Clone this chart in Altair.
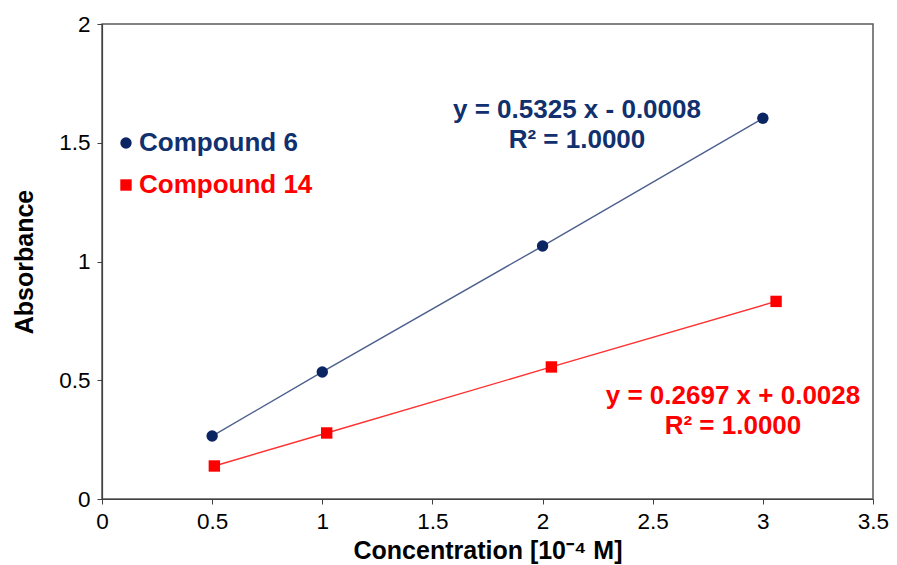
import altair as alt
import pandas as pd

series_names = ["Compound 6", "Compound 14"]
conc_6 = [0.5, 1.0, 2.0, 3.0]
abs_6 = [0.265, 0.535, 1.065, 1.603]
conc_14 = [0.51, 1.02, 2.04, 3.06]
abs_14 = [0.139, 0.278, 0.556, 0.832]
x_ticks = [0, 0.5, 1, 1.5, 2, 2.5, 3, 3.5]
y_ticks = [0, 0.5, 1, 1.5, 2]
eq_6 = ["y = 0.5325 x - 0.0008", "R² = 1.0000"]
eq_14 = ["y = 0.2697 x + 0.0028", "R² = 1.0000"]

series_col = [series_names[0]] * len(conc_6) + [series_names[1]] * len(conc_14)
df = pd.DataFrame({
    "x": conc_6 + conc_14,
    "y": abs_6 + abs_14,
    "series": series_col,
})

NAVY = "#0B2462"
NAVY_TXT = "#10306E"
RED = "#FF0000"
FONT = "Liberation Sans"
marker_colors = [NAVY, RED]
text_colors = [NAVY_TXT, RED]
line_colors = ["#4C5F8E", "#FF3030"]
shapes = ["circle", "square"]

xs = alt.X("x:Q", scale=alt.Scale(domain=[0, 3.5], nice=False),
           axis=alt.Axis(values=x_ticks, format="~g", title="Concentration [10⁻⁴ M]",
                         titleY=51, titleBaseline="middle", labelPadding=6,
                         labelFlush=False, labelOverlap=False))
ys = alt.Y("y:Q", scale=alt.Scale(domain=[0, 2], nice=False),
           axis=alt.Axis(values=y_ticks, format="~g", title="Absorbance",
                         titleX=-78, titleY=237.5, titleAlign="center",
                         titleBaseline="middle", labelPadding=7,
                         labelFlush=False, labelOverlap=False))

lines = alt.Chart(df).mark_line(strokeWidth=1.4).encode(
    x=xs, y=ys,
    stroke=alt.Stroke("series:N", scale=alt.Scale(domain=series_names, range=line_colors), legend=None),
    detail="series:N",
)

points = alt.Chart(df).mark_point(filled=True, opacity=1, size=130).encode(
    x=xs, y=ys,
    color=alt.Color("series:N", scale=alt.Scale(domain=series_names, range=marker_colors), legend=None),
    shape=alt.Shape("series:N", scale=alt.Scale(domain=series_names, range=shapes), legend=None),
)


def eq_text(lines_, color, px, py):
    return alt.Chart(pd.DataFrame({"t": ["\n".join(lines_)]})).mark_text(
        font=FONT, fontSize=26, fontWeight="bold", color=color, align="center",
        baseline="middle", lineBreak="\n", lineHeight=30,
    ).encode(text="t:N", x=alt.value(px), y=alt.value(py))


ann6 = eq_text(eq_6, NAVY_TXT, 475, 86)
ann14 = eq_text(eq_14, RED, 631, 372)

legend_layers = []
legend_rows = [119, 161]
for name, mcol, tcol, shp, ly in zip(series_names, marker_colors, text_colors, shapes, legend_rows):
    ldf = pd.DataFrame({"label": [name]})
    legend_layers.append(
        alt.Chart(ldf).mark_point(filled=True, opacity=1, size=130, shape=shp, color=mcol)
        .encode(x=alt.value(24), y=alt.value(ly))
    )
    legend_layers.append(
        alt.Chart(ldf).mark_text(font=FONT, fontSize=26, fontWeight="bold", color=tcol,
                                 align="left", baseline="middle")
        .encode(text="label:N", x=alt.value(37), y=alt.value(ly))
    )

chart = alt.layer(lines, points, ann6, ann14, *legend_layers).properties(
    width=771, height=475,
    autosize=alt.AutoSizeParams(type="none"),
    padding={"left": 94, "top": 16, "right": 16, "bottom": 66},
).configure_view(stroke="#595959", strokeWidth=1.5).configure_axis(
    grid=False, domainColor="#404040", tickColor="#404040", tickSize=5,
    labelFont=FONT, labelFontSize=22.5, labelColor="#000000",
    titleFont=FONT, titleFontSize=25, titleFontWeight="bold", titleColor="#000000",
    domainWidth=1.2,
)

chart.save("out.html", embed_options={"renderer": "svg", "actions": False})
